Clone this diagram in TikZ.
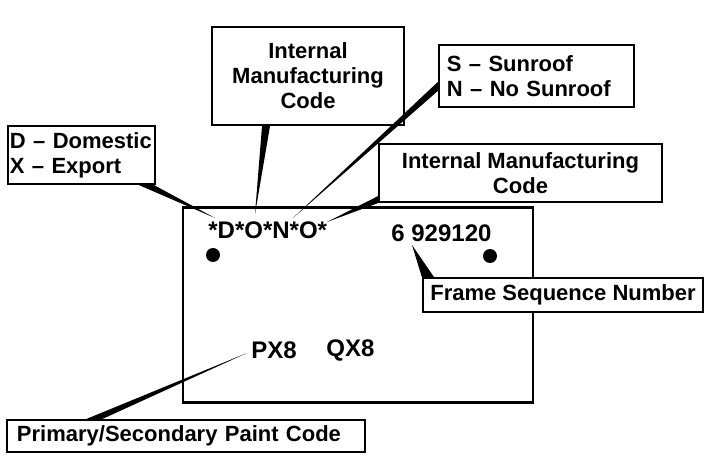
\documentclass[tikz,border=0pt]{standalone}
\usepackage{fontspec}
\setmainfont{Liberation Sans}
\usetikzlibrary{positioning, calc}

\begin{document}
\begin{tikzpicture}[x=0.5pt, y=-0.5pt,
    tagbox/.style={draw, line width=1.2pt, fill=white, inner ysep=0pt, inner xsep=2pt,
                   font=\fontsize{11}{12.5}\selectfont\bfseries},
    platetext/.style={inner sep=0pt, font=\fontsize{12}{14}\selectfont\bfseries},
    hole/.style={circle, fill=black, inner sep=0pt, minimum size=7pt},
    leader/.style={fill=black},
]
    \useasboundingbox (0,0) rectangle (720,460);

    % Plate
    \node[draw, line width=1.4pt, inner sep=0pt,
          minimum width=175pt, minimum height=97.5pt] (plate) at (358,305) {};
    \node[platetext, anchor=west] (code) at (208,230) {*D*O*N*O*};
    \node[platetext, anchor=west] (serial) at (391,233) {6 929120};
    \node[platetext, anchor=west] (pcode) at (251,350) {PX8};
    \node[platetext, anchor=west] (scode) at (326,350) {QX8};
    \node[hole] (holeL) at (213,255) {};
    \node[hole] (holeR) at (490,256) {};

    % Callout boxes
    \node[tagbox, align=center, minimum width=96pt, minimum height=49pt] (mfg) at (308,76)
        {Internal\\Manufacturing\\Code};
    \node[tagbox, align=left, inner xsep=1pt, text width=71.5pt, minimum height=29pt] (market) at (81.5,155)
        {D -- Domestic\\X -- Export};
    \node[tagbox, align=left, inner xsep=4pt, text width=89.5pt, minimum height=31pt] (roof) at (536.5,76)
        {S -- Sunroof\\N -- No Sunroof};
    \node[tagbox, align=center, minimum width=141.5pt, minimum height=29pt] (mfgtwo) at (520.5,173)
        {Internal Manufacturing\\Code};
    \node[tagbox, align=center, minimum width=140pt, minimum height=17pt] (frame) at (563,295)
        {Frame Sequence Number};
    \node[tagbox, align=left, inner xsep=5pt, text width=169pt, minimum height=16pt] (paint) at (186,436)
        {Primary/Secondary Paint Code};

    % Leader tips
    \coordinate (tipD) at (215,218);
    \coordinate (tipO) at (255,214);
    \coordinate (tipN) at (293,218);
    \coordinate (tipOO) at (327,222);
    \coordinate (tipSix) at (412,245);
    \coordinate (tipPX) at (247,353);

    % Leaders
    \fill[leader] ($(market.south east)+(-17,0)$) -- (tipD) -- ($(market.south east)+(-2,0)$) -- cycle;
    \fill[leader] ($(mfg.south)+(-46,0)$) -- (tipO) -- ($(mfg.south)+(-38,0)$) -- cycle;
    \fill[leader] ($(roof.west)+(0,6)$) -- (tipN) -- ($(roof.west)+(0,15)$) -- cycle;
    \fill[leader] ($(mfgtwo.south west)+(0,-7)$) -- (tipOO) -- (mfgtwo.south west) -- cycle;
    \fill[leader] (frame.north west) -- (tipSix) -- ($(frame.north west)+(12,0)$) -- cycle;
    \fill[leader] ($(paint.north west)+(81,0)$) -- (tipPX) -- ($(paint.north west)+(97,0)$) -- cycle;
\end{tikzpicture}
\end{document}
